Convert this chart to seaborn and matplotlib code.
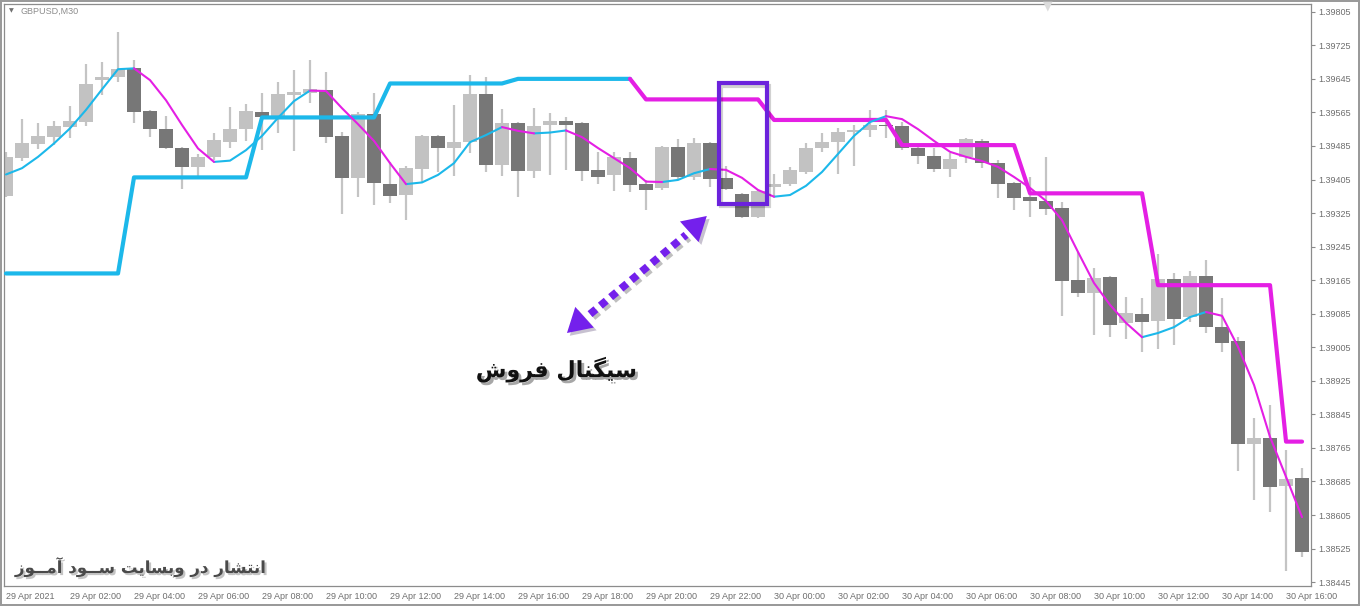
import numpy as np
import pandas as pd
import matplotlib
matplotlib.use("Agg")
import matplotlib.pyplot as plt
import matplotlib.patheffects as pe
import matplotlib.transforms as mtransforms
from matplotlib.patches import Rectangle
import seaborn as sns

# GBPUSD M30 candles, 29 Apr 00:00 -> 30 Apr 16:30
opens = [1.39366, 1.39456, 1.39490, 1.39506, 1.39530, 1.39542, 1.39642, 1.39649, 1.39671, 1.39568,
         1.39525, 1.39480, 1.39435, 1.39459, 1.39494, 1.39525, 1.39566, 1.39554, 1.39606, 1.39611,
         1.39618, 1.39509, 1.39409, 1.39561, 1.39394, 1.39368, 1.39430, 1.39509, 1.39480, 1.39494,
         1.39609, 1.39440, 1.39540, 1.39425, 1.39535, 1.39544, 1.39540, 1.39428, 1.39416, 1.39456,
         1.39394, 1.39385, 1.39482, 1.39411, 1.39492, 1.39409, 1.39370, 1.39316, 1.39387, 1.39394,
         1.39423, 1.39480, 1.39494, 1.39518, 1.39523, 1.39535, 1.39533, 1.39480, 1.39461, 1.39430,
         1.39459, 1.39497, 1.39444, 1.39397, 1.39363, 1.39354, 1.39337, 1.39165, 1.39134, 1.39172,
         1.39063, 1.39084, 1.39068, 1.39168, 1.39077, 1.39175, 1.39053, 1.39020, 1.38774, 1.38789,
         1.38674, 1.38693]
highs = [1.39471, 1.39549, 1.39540, 1.39544, 1.39580, 1.39680, 1.39685, 1.39757, 1.39690, 1.39571,
         1.39556, 1.39482, 1.39466, 1.39516, 1.39578, 1.39585, 1.39611, 1.39637, 1.39666, 1.39690,
         1.39661, 1.39518, 1.39566, 1.39611, 1.39447, 1.39437, 1.39511, 1.39511, 1.39583, 1.39654,
         1.39649, 1.39573, 1.39542, 1.39575, 1.39564, 1.39554, 1.39542, 1.39471, 1.39471, 1.39471,
         1.39404, 1.39485, 1.39502, 1.39504, 1.39494, 1.39437, 1.39373, 1.39380, 1.39418, 1.39435,
         1.39492, 1.39516, 1.39528, 1.39535, 1.39571, 1.39571, 1.39542, 1.39482, 1.39480, 1.39468,
         1.39504, 1.39502, 1.39451, 1.39399, 1.39411, 1.39459, 1.39351, 1.39232, 1.39194, 1.39175,
         1.39125, 1.39122, 1.39227, 1.39182, 1.39187, 1.39213, 1.39122, 1.39029, 1.38836, 1.38867,
         1.38760, 1.38717]
lows = [1.39363, 1.39449, 1.39478, 1.39487, 1.39504, 1.39533, 1.39606, 1.39637, 1.39540, 1.39506,
        1.39478, 1.39382, 1.39413, 1.39451, 1.39480, 1.39497, 1.39475, 1.39516, 1.39473, 1.39587,
        1.39492, 1.39323, 1.39363, 1.39344, 1.39349, 1.39308, 1.39399, 1.39423, 1.39413, 1.39468,
        1.39423, 1.39413, 1.39363, 1.39409, 1.39416, 1.39428, 1.39401, 1.39394, 1.39378, 1.39375,
        1.39332, 1.39380, 1.39404, 1.39404, 1.39387, 1.39380, 1.39313, 1.39313, 1.39363, 1.39390,
        1.39418, 1.39471, 1.39418, 1.39437, 1.39506, 1.39504, 1.39475, 1.39442, 1.39423, 1.39411,
        1.39444, 1.39432, 1.39361, 1.39332, 1.39316, 1.39320, 1.39080, 1.39125, 1.39034, 1.39029,
        1.39025, 1.38994, 1.39001, 1.39010, 1.39065, 1.39039, 1.38994, 1.38710, 1.38641, 1.38612,
        1.38472, 1.38505]
closes = [1.39459, 1.39492, 1.39509, 1.39533, 1.39544, 1.39633, 1.39649, 1.39668, 1.39566, 1.39525,
          1.39480, 1.39435, 1.39459, 1.39499, 1.39525, 1.39568, 1.39554, 1.39609, 1.39614, 1.39621,
          1.39506, 1.39409, 1.39561, 1.39397, 1.39366, 1.39432, 1.39509, 1.39480, 1.39494, 1.39609,
          1.39440, 1.39540, 1.39425, 1.39533, 1.39544, 1.39535, 1.39425, 1.39411, 1.39459, 1.39392,
          1.39380, 1.39482, 1.39411, 1.39492, 1.39406, 1.39382, 1.39316, 1.39378, 1.39394, 1.39428,
          1.39480, 1.39494, 1.39518, 1.39523, 1.39535, 1.39533, 1.39480, 1.39461, 1.39430, 1.39454,
          1.39502, 1.39444, 1.39394, 1.39361, 1.39354, 1.39335, 1.39163, 1.39134, 1.39170, 1.39058,
          1.39087, 1.39065, 1.39168, 1.39072, 1.39175, 1.39053, 1.39015, 1.38774, 1.38789, 1.38672,
          1.38691, 1.38517]

# thin moving average (colour follows its slope)
ma_line = [1.39417, 1.39432, 1.39459, 1.39491, 1.39527, 1.39571, 1.39620, 1.39668, 1.39670, 1.39642,
           1.39594, 1.39535, 1.39479, 1.39447, 1.39450, 1.39475, 1.39509, 1.39552, 1.39592, 1.39617,
           1.39616, 1.39575, 1.39537, 1.39497, 1.39444, 1.39394, 1.39398, 1.39416, 1.39444, 1.39494,
           1.39511, 1.39530, 1.39521, 1.39515, 1.39517, 1.39522, 1.39506, 1.39480, 1.39456, 1.39432,
           1.39400, 1.39399, 1.39404, 1.39420, 1.39430, 1.39428, 1.39409, 1.39380, 1.39364, 1.39368,
           1.39390, 1.39423, 1.39466, 1.39509, 1.39542, 1.39556, 1.39549, 1.39525, 1.39497, 1.39471,
           1.39459, 1.39449, 1.39435, 1.39411, 1.39385, 1.39354, 1.39308, 1.39232, 1.39158, 1.39106,
           1.39063, 1.39029, 1.39039, 1.39053, 1.39077, 1.39089, 1.39080, 1.39006, 1.38915, 1.38791,
           1.38696, 1.38600]

# thick trailing line and its trend (1 = up / cyan, -1 = down / magenta)
stop_line = [1.39181, 1.39181, 1.39181, 1.39181, 1.39181, 1.39181, 1.39181, 1.39181,
             1.39410, 1.39410, 1.39410, 1.39410, 1.39410, 1.39410, 1.39410, 1.39410,
             1.39553, 1.39553, 1.39553, 1.39553, 1.39553, 1.39553, 1.39553, 1.39553,
             1.39634, 1.39634, 1.39634, 1.39634, 1.39634, 1.39634, 1.39634, 1.39634,
             1.39645, 1.39645, 1.39645, 1.39645, 1.39645, 1.39645, 1.39645, 1.39645,
             1.39596, 1.39596, 1.39596, 1.39596, 1.39596, 1.39596, 1.39596, 1.39596,
             1.39547, 1.39547, 1.39547, 1.39547, 1.39547, 1.39547, 1.39547, 1.39547,
             1.39487, 1.39487, 1.39487, 1.39487, 1.39487, 1.39487, 1.39487, 1.39487,
             1.39372, 1.39372, 1.39372, 1.39372, 1.39372, 1.39372, 1.39372, 1.39372,
             1.39153, 1.39153, 1.39153, 1.39153, 1.39153, 1.39153, 1.39153, 1.39153,
             1.38780, 1.38780]
stop_trend = [1, 1, 1, 1, 1, 1, 1, 1, 1, 1, 1, 1, 1, 1, 1, 1, 1, 1, 1, 1,
              1, 1, 1, 1, 1, 1, 1, 1, 1, 1, 1, 1, 1, 1, 1, 1, 1, 1, 1, 1,
              -1, -1, -1, -1, -1, -1, -1, -1, -1, -1, -1, -1, -1, -1, -1, -1, -1, -1, -1, -1,
              -1, -1, -1, -1, -1, -1, -1, -1, -1, -1, -1, -1, -1, -1, -1, -1, -1, -1, -1, -1,
              -1, -1]

x_tick_bars = [0, 4, 8, 12, 16, 20, 24, 28, 32, 36, 40, 44, 48, 52, 56, 60, 64, 68, 72, 76, 80]
x_tick_labels = ["29 Apr 2021", "29 Apr 02:00", "29 Apr 04:00", "29 Apr 06:00", "29 Apr 08:00",
                 "29 Apr 10:00", "29 Apr 12:00", "29 Apr 14:00", "29 Apr 16:00", "29 Apr 18:00",
                 "29 Apr 20:00", "29 Apr 22:00", "30 Apr 00:00", "30 Apr 02:00", "30 Apr 04:00",
                 "30 Apr 06:00", "30 Apr 08:00", "30 Apr 10:00", "30 Apr 12:00", "30 Apr 14:00",
                 "30 Apr 16:00"]
y_ticks = [1.39805, 1.39725, 1.39645, 1.39565, 1.39485, 1.39405, 1.39325, 1.39245, 1.39165,
           1.39085, 1.39005, 1.38925, 1.38845, 1.38765, 1.38685, 1.38605, 1.38525, 1.38445]

CYAN = "#1cb8ea"
MAGENTA = "#e41fe4"
PURPLE = "#6b22dc"
ARROW = "#7420ec"

sns.set_style("white")
plt.rcParams["font.family"] = ["Liberation Sans", "DejaVu Sans"]

fig = plt.figure(figsize=(13.6, 6.06), dpi=100)
fig.patch.set_edgecolor("#9a9a9a")
fig.patch.set_linewidth(1.5)
ax = fig.add_axes([4 / 1360, 20 / 606, 1307 / 1360, 582 / 606])

bars = np.arange(len(opens))
o = np.array(opens)
h = np.array(highs)
l = np.array(lows)
c = np.array(closes)
bull = c > o

# candles
ax.vlines(bars, l, h, color="#c4c4c4", lw=1.6, zorder=1)
body = np.maximum(np.abs(c - o), 0.00003)
ax.bar(bars, body, bottom=np.minimum(o, c), width=0.88,
       color=np.where(bull, "#c2c2c2", "#777777"), linewidth=0, zorder=1.5)


def colour_runs(values, dirs):
    # split a line into runs of the same colour so seaborn can draw each run
    rows = []
    run = 0
    for k in range(len(values) - 1):
        if k > 0 and dirs[k] != dirs[k - 1]:
            run += 1
        rows.append((run, dirs[k], k, values[k]))
        rows.append((run, dirs[k], k + 1, values[k + 1]))
    return pd.DataFrame(rows, columns=["run", "dir", "bar", "price"])


ma_dirs = ["up" if ma_line[k + 1] >= ma_line[k] else "down" for k in range(len(ma_line) - 1)]
stop_dirs = ["up" if stop_trend[k + 1] > 0 else "down" for k in range(len(stop_line) - 1)]

pal = {"up": CYAN, "down": MAGENTA}
sns.lineplot(data=colour_runs(stop_line, stop_dirs), x="bar", y="price", hue="dir", units="run",
             estimator=None, sort=False, palette=pal, lw=3.0, legend=False, ax=ax, zorder=3)
sns.lineplot(data=colour_runs(ma_line, ma_dirs), x="bar", y="price", hue="dir", units="run",
             estimator=None, sort=False, palette=pal, lw=1.5, legend=False, ax=ax, zorder=4)

ax.set_xlim(-0.125, 81.56)
ax.set_ylim(1.384357, 1.398235)

# axes look of the terminal
ax.yaxis.tick_right()
ax.set_yticks(y_ticks)
ax.set_yticklabels([f"{v:.5f}" for v in y_ticks])
ax.set_xticks(x_tick_bars)
ax.set_xticklabels(x_tick_labels, ha="left")
ax.tick_params(axis="both", colors="#8a8a8a", labelcolor="#6e6e6e", labelsize=6.5,
               length=3, width=0.8, direction="out")
ax.tick_params(axis="y", pad=2)
ax.tick_params(axis="x", pad=1)
ax.set_xlabel("")
ax.set_ylabel("")
for s in ax.spines.values():
    s.set_color("#8c8c8c")
    s.set_linewidth(0.9)

ax.text(0.0125, 0.988, "GBPUSD,M30", transform=ax.transAxes, fontsize=6.5,
        color="#8c8c8c", va="center", ha="left")
ax.text(0.0055, 0.988, "\u25bc", transform=ax.transAxes, fontsize=4.5,
        color="#707070", va="center", ha="center", family=["DejaVu Sans"])
ax.text(65.1, 0.997, "\u25bc", transform=ax.get_xaxis_transform(), fontsize=9,
        color="#dcdcdc", va="center", ha="center", family=["DejaVu Sans"])

# signal box (with a soft offset shadow) and dotted double arrow
shadow_tr = mtransforms.offset_copy(ax.transData, fig=fig, x=2.5, y=-2.5, units="dots")
ax.add_patch(Rectangle((44.56, 1.39347), 3.0, 0.00287, fill=False, ec="#000000", lw=3,
                       alpha=0.18, transform=shadow_tr, zorder=5.5))
ax.add_patch(Rectangle((44.56, 1.39347), 3.0, 0.00287, fill=False, ec=PURPLE, lw=3, zorder=6))
ax.plot([36.5, 42.5], [1.39084, 1.39273], color=ARROW, lw=5.5,
        linestyle=(0, (1, 0.75)), dash_capstyle="butt", zorder=6,
        path_effects=[pe.SimpleLineShadow(offset=(2, -2), alpha=0.25), pe.Normal()])
for tip, tail in [((43.8, 1.39318), (42.49, 1.39273)), ((35.06, 1.39039), (36.375, 1.39084))]:
    ax.annotate("", xy=tip, xytext=tail, zorder=6,
                arrowprops=dict(arrowstyle="-|>,head_length=0.85,head_width=0.5",
                                mutation_scale=20, color=ARROW, lw=0,
                                shrinkA=0, shrinkB=0,
                                path_effects=[pe.SimplePatchShadow(offset=(2, -2), alpha=0.25),
                                              pe.Normal()]))

# Persian labels written with presentation forms, visual order
sell_signal = "\uFEB3\uFBFF\uFB95\uFEE8\uFE8E\uFEDD \uFED3\uFEAE\uFEED\uFEB5"[::-1]  # سیگنال فروش
watermark = ("\uFE8D\uFEE7\uFE98\uFEB8\uFE8E\uFEAD \uFEA9\uFEAD "
             "\uFEED\uFE91\uFEB4\uFE8E\uFBFE\uFE96 "
             "\uFEB3\u0640\u0640\uFEEE\uFEA9 "
             "\uFE81\uFEE3\u0640\u0640\uFEEE\uFEAF")[::-1]  # انتشار در وبسایت سود آموز

ax.text(34.4, 1.38951, sell_signal, fontsize=16, fontweight="bold", color="#111111",
        ha="center", va="center", family=["DejaVu Sans"], zorder=7,
        path_effects=[pe.withSimplePatchShadow(offset=(2, -2), alpha=0.35)])
ax.text(0.56, 1.38481, watermark, fontsize=12, fontweight="bold", color="#4a4a4a",
        ha="left", va="center", family=["DejaVu Sans"], zorder=7,
        path_effects=[pe.withSimplePatchShadow(offset=(1.5, -1.5), alpha=0.25)])

fig.savefig("out.png", dpi=100)
